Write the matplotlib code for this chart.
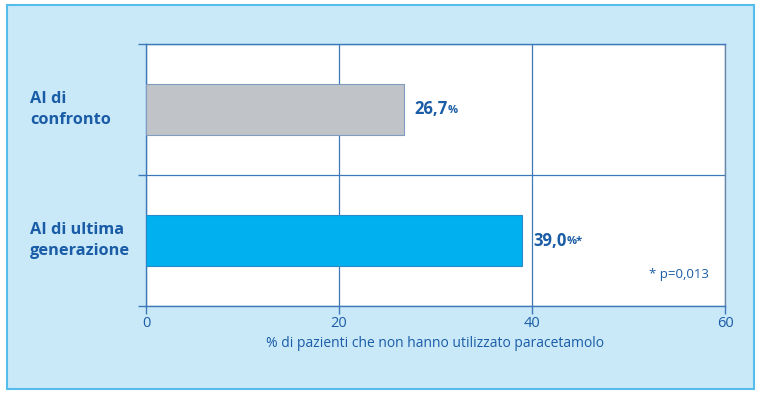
import matplotlib.pyplot as plt
from matplotlib.patches import Rectangle
from matplotlib.transforms import offset_copy

# Data
categories = ["AI di ultima\ngenerazione", "AI di\nconfronto"]
values = [39.0, 26.7]
value_labels = ["39,0", "26,7"]
value_suffix = ["%*", "%"]
bar_colors = ["#00b0ef", "#c0c3c8"]
xticks = [0, 20, 40, 60]

DARK = "#1a5ca6"
LINE = "#3f78b8"
plt.rcParams['font.family'] = ['Open Sans', 'DejaVu Sans']

fig = plt.figure(figsize=(7.6, 3.94), dpi=100)
fig.patch.set_facecolor("white")

# outer light blue panel
fig.patches.append(Rectangle((7 / 760, 5 / 394), 747 / 760, 384 / 394,
                             transform=fig.transFigure, facecolor="#c9e9f9",
                             edgecolor="#55bde9", linewidth=1.5, zorder=-5))

ax = fig.add_axes([146 / 760, 88 / 394, 579 / 760, 262 / 394])
ax.set_zorder(1)
ax.set_facecolor("white")

ypos = [0.5, 1.5]
ax.barh(ypos, values, height=0.39, color=bar_colors,
        edgecolor=["#2a8ac8", "#7f9bbd"], linewidth=0.8, zorder=3)

ax.set_xlim(0, 60)
ax.set_ylim(0, 2)
ax.set_xticks(xticks)
ax.set_xticklabels([str(t) for t in xticks], color=DARK, fontsize=10.5)
ax.set_yticks([0, 1, 2])
ax.set_yticklabels([])
ax.tick_params(axis="both", colors=LINE, length=6, width=1, direction="out")
ax.tick_params(axis="x", labelcolor=DARK, pad=1)
for s in ax.spines.values():
    s.set_color(LINE)
    s.set_linewidth(1)
ax.spines["right"].set_color("#6a86a8")
ax.grid(True, color=LINE, linewidth=0.9, zorder=1)

ax.set_xlabel("% di pazienti che non hanno utilizzato paracetamolo",
              color=DARK, fontsize=10, labelpad=4)

# category labels
for y, lab in zip(ypos, categories):
    ax.text(-12.0, y, lab, ha="left", va="center", color=DARK,
            fontsize=11.8, fontweight="bold", linespacing=1.35,
            transform=ax.transData)

# value labels with smaller suffix
fig.canvas.draw()
r = fig.canvas.get_renderer()
for y, v, lab, suf in zip(ypos, values, value_labels, value_suffix):
    t = ax.text(v + 1.1, y, lab, ha="left", va="center", color=DARK,
                fontsize=12, fontweight="bold", zorder=4)
    w = t.get_window_extent(renderer=r).width
    tr = offset_copy(ax.transData, fig=fig, x=w * 72 / fig.dpi, y=-1, units="points")
    ax.text(v + 1.1, y, suf, ha="left", va="center", color=DARK,
            fontsize=8, fontweight="bold", transform=tr, zorder=4)

ax.text(0.972, 0.122, "* p=0,013", ha="right", va="center", color=DARK,
        fontsize=9.5, transform=ax.transAxes)

fig.savefig("out.png", dpi=100)
